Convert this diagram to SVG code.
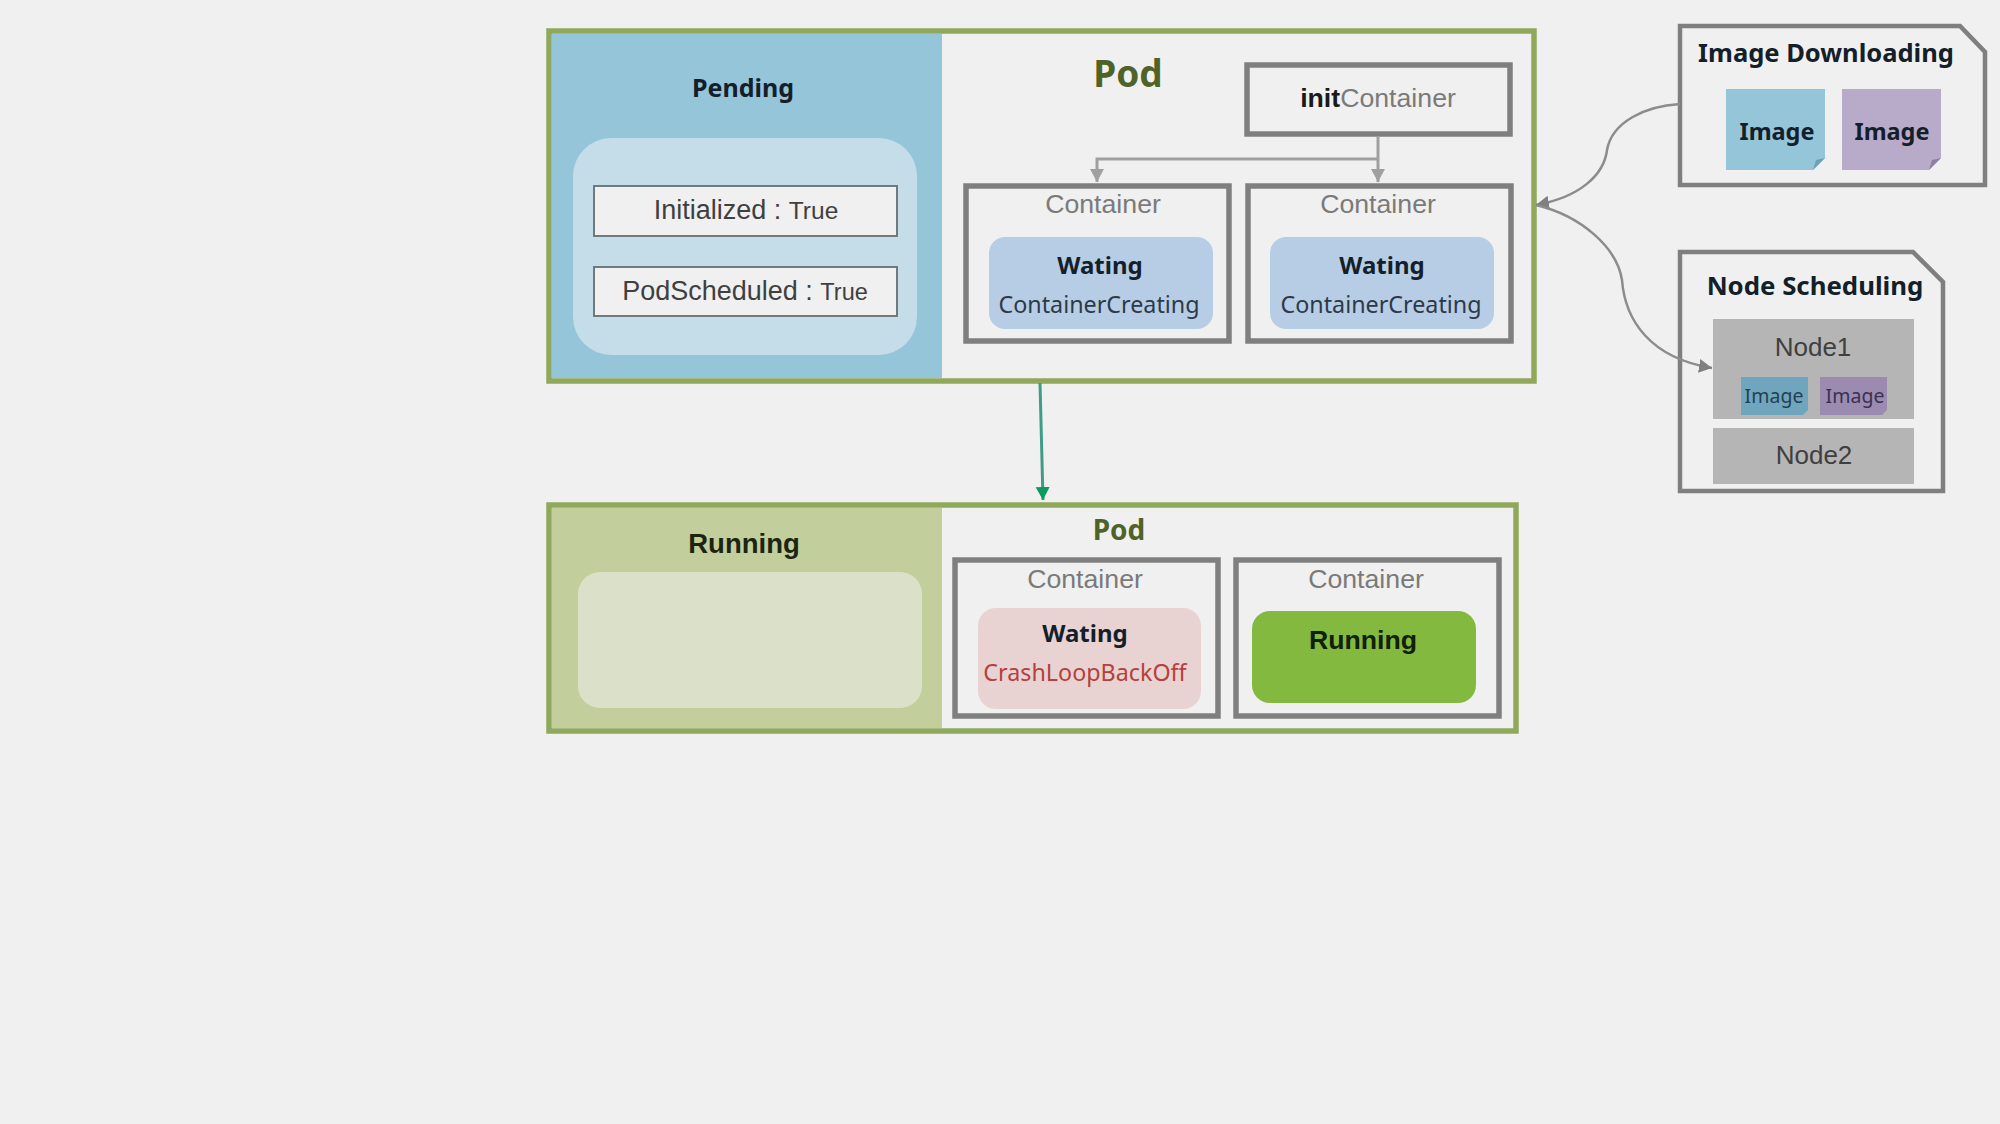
<svg xmlns="http://www.w3.org/2000/svg" width="2000" height="1124" viewBox="0 0 2000 1124">
  <style>
    text { text-anchor: middle; }
    .hd { font-family: "Noto Sans", sans-serif; font-weight: 700; fill: #13202a; }
    .sub { font-family: "Noto Sans", sans-serif; font-size: 23px; fill: #2c3a48; }
    .ar { font-family: "Liberation Sans", Arial, sans-serif; fill: #3f3f3f; }
    .ctl { font-family: "Liberation Sans", Arial, sans-serif; font-size: 26.7px; fill: #7a7a7a; }
    .pod { fill: #f0f0f0; stroke: #8fa85b; stroke-width: 5.5; }
    .box { fill: #f0f0f0; stroke: #7f7f7f; stroke-width: 5.5; }
    .cond { fill: #f0f0f0; stroke: #6f7a7f; stroke-width: 2; }
    .thin { fill: #f0f0f0; stroke: #7f7f7f; stroke-width: 4.5; }
    .link { fill: none; stroke: #a0a0a0; stroke-width: 3; }
    .curve { fill: none; stroke: #8c8c8c; stroke-width: 2.5; }
    .gnode { fill: #b5b5b5; }
  </style>
  <defs>
    <marker id="tip-gray" markerUnits="userSpaceOnUse" markerWidth="16" markerHeight="16" refX="13" refY="7" orient="auto">
      <path d="M0 0 L13 7 L0 14 Z" fill="#a0a0a0"/>
    </marker>
    <marker id="tip-dark" markerUnits="userSpaceOnUse" markerWidth="16" markerHeight="16" refX="13" refY="7" orient="auto">
      <path d="M0 0 L13 7 L0 14 Z" fill="#7f7f7f"/>
    </marker>
    <marker id="tip-green" markerUnits="userSpaceOnUse" markerWidth="16" markerHeight="16" refX="13" refY="7" orient="auto">
      <path d="M0 0 L13 7 L0 14 Z" fill="#0c9a5e"/>
    </marker>
  </defs>

  <rect width="2000" height="1124" fill="#f0f0f0"/>

  <!-- Pending pod -->
  <g id="pod-pending">
    <rect class="pod" x="549" y="31" width="985" height="350"/>
    <rect x="552" y="34" width="390" height="344" fill="#94c5d9"/>
    <text class="hd" x="743" y="97" font-size="25">Pending</text>
    <text x="1128" y="87" font-family="Noto Sans, sans-serif" font-weight="700" font-size="37" fill="#4f6228">Pod</text>
  </g>
  <g id="conditions">
    <rect x="573" y="138" width="344" height="217" rx="38" fill="#c5dde8"/>
    <rect class="cond" x="594" y="186" width="303" height="50"/>
    <text class="ar" x="746" y="219" font-size="27">Initialized : <tspan font-size="24.5">True</tspan></text>
    <rect class="cond" x="594" y="267" width="303" height="49"/>
    <text class="ar" x="745" y="300" font-size="27">PodScheduled : <tspan font-size="23.5">True</tspan></text>
  </g>
  <g id="init-container">
    <rect class="box" x="1247" y="65" width="263" height="69"/>
    <text class="ctl" x="1378" y="107"><tspan font-weight="700" fill="#1a1a1a">init</tspan>Container</text>
  </g>
  <g id="container-a">
    <rect class="box" x="966" y="186" width="263" height="155"/>
    <text class="ctl" x="1103" y="213">Container</text>
    <rect x="989" y="237" width="224" height="92" rx="16" fill="#b7cde6"/>
    <text class="hd" x="1100" y="274" font-size="24">Wating</text>
    <text class="sub" x="1099" y="313" font-size="23.3" style="font-size:23.3px">ContainerCreating</text>
  </g>
  <g id="container-b">
    <rect class="box" x="1248" y="186" width="263" height="155"/>
    <text class="ctl" x="1378" y="213">Container</text>
    <rect x="1270" y="237" width="224" height="92" rx="16" fill="#b7cde6"/>
    <text class="hd" x="1382" y="274" font-size="24">Wating</text>
    <text class="sub" x="1381" y="313" style="font-size:23.3px">ContainerCreating</text>
  </g>

  <!-- Running pod -->
  <g id="pod-running">
    <rect class="pod" x="549" y="505" width="967" height="226"/>
    <rect x="552" y="508" width="390" height="220" fill="#c2cf9c"/>
    <rect x="578" y="572" width="344" height="136" rx="22" fill="#dbe1c8"/>
    <text x="744" y="553" font-family="Liberation Sans, Arial, sans-serif" font-weight="700" font-size="27.5" fill="#1c2412">Running</text>
    <text x="1119" y="540" font-family="Noto Sans, sans-serif" font-weight="700" font-size="28" fill="#4f6228">Pod</text>
  </g>
  <g id="container-c">
    <rect class="box" x="955" y="560" width="263" height="156"/>
    <text class="ctl" x="1085" y="588">Container</text>
    <rect x="978" y="608" width="223" height="101" rx="18" fill="#e9d3d2"/>
    <text class="hd" x="1085" y="642" font-size="24">Wating</text>
    <text x="1085" y="681" font-family="Noto Sans, sans-serif" font-size="23.3" fill="#b5403c">CrashLoopBackOff</text>
  </g>
  <g id="container-d">
    <rect class="box" x="1236" y="560" width="263" height="156"/>
    <text class="ctl" x="1366" y="588">Container</text>
    <rect x="1252" y="611" width="224" height="92" rx="18" fill="#84b93f"/>
    <text x="1363" y="649" font-family="Liberation Sans, Arial, sans-serif" font-weight="700" font-size="26.7" fill="#10200a">Running</text>
  </g>

  <!-- Image Downloading panel -->
  <g id="image-downloading">
    <path class="thin" d="M1680 26 H1960 L1985 52 V185 H1680 Z"/>
    <text class="hd" x="1826" y="62" font-size="25.5">Image Downloading</text>
    <path d="M1726 89 H1825 V158 L1813 170 H1726 Z" fill="#94c5d9"/>
    <path d="M1825 158 L1813 170 L1816 160 Z" fill="#6fa0b4"/>
    <text class="hd" x="1777" y="140" font-size="23.5">Image</text>
    <path d="M1842 89 H1941 V158 L1929 170 H1842 Z" fill="#b8aac9"/>
    <path d="M1941 158 L1929 170 L1932 160 Z" fill="#8f7fa5"/>
    <text class="hd" x="1892" y="140" font-size="23.5">Image</text>
  </g>

  <!-- Node Scheduling panel -->
  <g id="node-scheduling">
    <path class="thin" d="M1680 252 H1913 L1943 282 V491 H1680 Z"/>
    <text class="hd" x="1815" y="295" font-size="25.8">Node Scheduling</text>
  </g>
  <g id="node-1">
    <rect class="gnode" x="1713" y="319" width="201" height="100"/>
    <text class="ar" x="1813" y="356" font-size="26">Node1</text>
    <path d="M1741 377 H1808 V410 L1803 415 H1741 Z" fill="#6fa6be"/>
    <text x="1774" y="403" font-family="Noto Sans, sans-serif" font-size="19.5" fill="#263f52">Image</text>
    <path d="M1820 377 H1887 V410 L1882 415 H1820 Z" fill="#9c8bb0"/>
    <text x="1855" y="403" font-family="Noto Sans, sans-serif" font-size="19.5" fill="#3a3050">Image</text>
  </g>
  <g id="node-2">
    <rect class="gnode" x="1713" y="428" width="201" height="56"/>
    <text class="ar" x="1814" y="464" font-size="26">Node2</text>
  </g>

  <!-- Connectors -->
  <g id="connectors">
    <path class="link" d="M1378 137 V182" marker-end="url(#tip-gray)"/>
    <path class="link" d="M1378 159 H1097 V182" marker-end="url(#tip-gray)"/>
    <path class="curve" d="M1680 104 C1645 106 1612 122 1607 150 C1604 175 1580 197 1536 205" marker-end="url(#tip-dark)"/>
    <path class="curve" d="M1536 205 C1582 216 1617 248 1622 280 C1625 320 1650 358 1712 368" marker-end="url(#tip-dark)"/>
    <path d="M1040 383 L1043 500" fill="none" stroke="#3f9c86" stroke-width="3" marker-end="url(#tip-green)"/>
  </g>
</svg>
